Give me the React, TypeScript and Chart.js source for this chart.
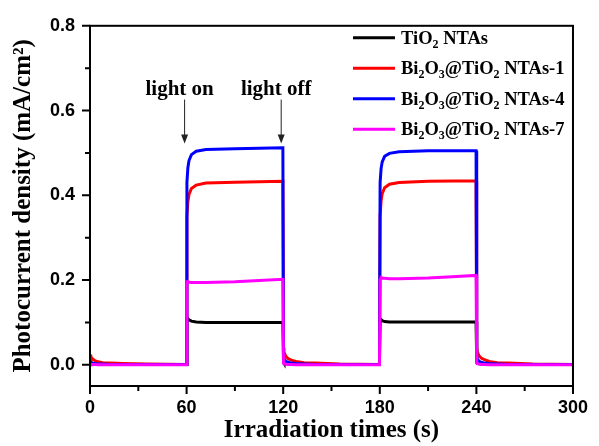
import React, { useEffect, useRef } from 'react';
import { Chart, registerables } from 'chart.js';

Chart.register(...registerables);

// Time axis (s)
const TIME = [
  0, 0.5, 1.5, 3, 5, 8, 13, 20, 35, 59.8,
  60.2, 60.8, 61.5, 63, 66, 72, 90, 105, 119.8,
  120.2, 120.5, 121.5, 123, 125, 128, 133, 140, 155, 179.8,
  180.2, 180.8, 181.5, 183, 186, 192, 210, 225, 239.8,
  240.2, 240.5, 241.5, 243, 245, 248, 253, 260, 275, 300,
];

const TIO2 = [
  0.004, 0.003, 0.002, 0.002, 0.001, 0.001, 0.001, 0.001, 0.001, 0.001,
  0.108, 0.109, 0.106, 0.103, 0.101, 0.1, 0.1, 0.1, 0.1,
  0.006, 0.004, 0.003, 0.002, 0.002, 0.001, 0.001, 0.001, 0.001, 0.001,
  0.106, 0.107, 0.104, 0.102, 0.101, 0.101, 0.101, 0.101, 0.101,
  0.006, 0.004, 0.003, 0.002, 0.002, 0.001, 0.001, 0.001, 0.001, 0.001,
];

const BI_1 = [
  0.024, 0.019, 0.014, 0.01, 0.007, 0.005, 0.004, 0.003, 0.002, 0.001,
  0.35, 0.385, 0.402, 0.416, 0.424, 0.429, 0.431, 0.432, 0.433,
  0.04, 0.03, 0.021, 0.015, 0.011, 0.008, 0.005, 0.004, 0.002, 0.001,
  0.35, 0.387, 0.404, 0.418, 0.426, 0.43, 0.433, 0.434, 0.434,
  0.042, 0.032, 0.022, 0.016, 0.012, 0.008, 0.005, 0.004, 0.002, 0.001,
];

const BI_4 = [
  0.008, 0.006, 0.004, 0.003, 0.002, 0.002, 0.001, 0.001, 0.001, 0.001,
  0.43, 0.465, 0.482, 0.496, 0.504, 0.508, 0.51, 0.511, 0.512,
  0.02, 0.014, 0.009, 0.006, 0.004, 0.003, 0.002, 0.001, 0.001, 0.001,
  0.43, 0.463, 0.479, 0.492, 0.499, 0.503, 0.505, 0.505, 0.505,
  0.02, 0.014, 0.009, 0.006, 0.004, 0.003, 0.002, 0.001, 0.001, 0.001,
];

const BI_7 = [
  0.002, 0.001, 0.001, 0.001, 0, 0, 0, 0, 0, 0,
  0.196, 0.197, 0.195, 0.194, 0.194, 0.194, 0.196, 0.199, 0.202,
  0.004, 0.003, 0.002, 0.001, 0.001, 0, 0, 0, 0, 0,
  0.2, 0.206, 0.205, 0.204, 0.203, 0.203, 0.205, 0.208, 0.211,
  0.004, 0.003, 0.002, 0.001, 0.001, 0, 0, 0, 0, 0,
];

const SERIES_LABELS = [
  'TiO_{2} NTAs',
  'Bi_{2}O_{3}@TiO_{2} NTAs-1',
  'Bi_{2}O_{3}@TiO_{2} NTAs-4',
  'Bi_{2}O_{3}@TiO_{2} NTAs-7',
];
const SERIES_COLORS = ['#000000', '#ff0000', '#0000ff', '#ff00ff'];
const SERIES_VALUES = [TIO2, BI_1, BI_4, BI_7];
const SERIES_ORDER = [3, 2, 1, 0];

const X_MAJOR = [0, 60, 120, 180, 240, 300];
const X_MINOR = [30, 90, 150, 210, 270];
const Y_MAJOR = [0, 0.2, 0.4, 0.6, 0.8];
const Y_MINOR = [0.1, 0.3, 0.5, 0.7];

const ANNOT_X = [60, 120];
const ANNOT_TEXT = ['light on', 'light off'];
const ANNOT_TEXT_Y = 0.65;
const ANNOT_ARROW_TOP = 0.626;
const ANNOT_ARROW_TIP = 0.522;

const SERIF = '"Liberation Serif", "Times New Roman", serif';
const SANS = '"Liberation Sans", Arial, sans-serif';

function parseRich(s: string) {
  const parts: { t: string; sub: boolean }[] = [];
  const re = /_\{([^}]*)\}/g;
  let last = 0;
  let m: RegExpExecArray | null;
  while ((m = re.exec(s))) {
    if (m.index > last) parts.push({ t: s.slice(last, m.index), sub: false });
    parts.push({ t: m[1], sub: true });
    last = m.index + m[0].length;
  }
  if (last < s.length) parts.push({ t: s.slice(last), sub: false });
  return parts;
}

const decorPlugin = {
  id: 'decor',
  afterDraw(chart: any) {
    const { ctx, chartArea: a, scales } = chart;
    const x = scales.x;
    const y = scales.y;
    ctx.save();
    ctx.strokeStyle = '#000';
    ctx.lineWidth = 2;
    ctx.strokeRect(a.left, a.top, a.right - a.left, a.bottom - a.top);
    ctx.beginPath();
    X_MAJOR.forEach((v) => {
      const p = x.getPixelForValue(v);
      ctx.moveTo(p, a.bottom);
      ctx.lineTo(p, a.bottom + 8);
    });
    X_MINOR.forEach((v) => {
      const p = x.getPixelForValue(v);
      ctx.moveTo(p, a.bottom);
      ctx.lineTo(p, a.bottom + 5);
    });
    Y_MAJOR.forEach((v) => {
      const p = y.getPixelForValue(v);
      ctx.moveTo(a.left - 8, p);
      ctx.lineTo(a.left, p);
    });
    Y_MINOR.forEach((v) => {
      const p = y.getPixelForValue(v);
      ctx.moveTo(a.left - 5, p);
      ctx.lineTo(a.left, p);
    });
    ctx.stroke();

    // legend
    SERIES_LABELS.forEach((lab, i) => {
      const ly = a.top + 12 + i * 30.5;
      ctx.strokeStyle = SERIES_COLORS[i];
      ctx.lineWidth = 3;
      ctx.beginPath();
      ctx.moveTo(a.right - 220, ly);
      ctx.lineTo(a.right - 178, ly);
      ctx.stroke();
      let tx = a.right - 172;
      const base = ly + 6;
      ctx.fillStyle = '#000';
      ctx.textBaseline = 'alphabetic';
      ctx.textAlign = 'left';
      parseRich(lab).forEach((part) => {
        if (part.sub) {
          ctx.font = `bold 12px ${SERIF}`;
          ctx.fillText(part.t, tx, base + 4);
        } else {
          ctx.font = `bold 18.5px ${SERIF}`;
          ctx.fillText(part.t, tx, base);
        }
        tx += ctx.measureText(part.t).width;
      });
    });

    // annotations
    ANNOT_X.forEach((v, i) => {
      const px = x.getPixelForValue(v) - 2;
      ctx.fillStyle = '#000';
      ctx.font = `bold 21px ${SERIF}`;
      ctx.textAlign = 'center';
      ctx.textBaseline = 'middle';
      ctx.fillText(ANNOT_TEXT[i], px - 5, y.getPixelForValue(ANNOT_TEXT_Y));
      const top = y.getPixelForValue(ANNOT_ARROW_TOP);
      const tip = y.getPixelForValue(ANNOT_ARROW_TIP);
      ctx.strokeStyle = '#222';
      ctx.lineWidth = 1;
      ctx.beginPath();
      ctx.moveTo(px, top);
      ctx.lineTo(px, tip - 6);
      ctx.stroke();
      ctx.fillStyle = '#222';
      ctx.beginPath();
      ctx.moveTo(px - 3.5, tip - 9);
      ctx.lineTo(px + 3.5, tip - 9);
      ctx.lineTo(px, tip);
      ctx.closePath();
      ctx.fill();
    });
    ctx.restore();
  },
};

export default function App() {
  const ref = useRef<HTMLCanvasElement | null>(null);
  useEffect(() => {
    if (!ref.current) return;
    const datasets = SERIES_VALUES.map((vals, i) => ({
      label: SERIES_LABELS[i],
      data: TIME.map((t, j) => ({ x: t, y: vals[j] })),
      borderColor: SERIES_COLORS[i],
      backgroundColor: SERIES_COLORS[i],
      borderWidth: 3,
      pointRadius: 0,
      tension: 0,
      fill: false,
      order: SERIES_ORDER[i],
    }));
    const chart = new Chart(ref.current, {
      type: 'line',
      data: { datasets },
      plugins: [decorPlugin],
      options: {
        responsive: false,
        animation: false,
        events: [],
        layout: { padding: { top: 24, right: 18, left: 0, bottom: 0 } },
        plugins: { legend: { display: false }, tooltip: { enabled: false } },
        scales: {
          x: {
            type: 'linear',
            min: 0,
            max: 300,
            afterBuildTicks: (s: any) => {
              s.ticks = X_MAJOR.map((v) => ({ value: v }));
            },
            afterFit: (s: any) => {
              s.height = 60;
            },
            grid: { display: false, drawTicks: false },
            border: { display: false },
            ticks: {
              padding: 11,
              color: '#000',
              maxRotation: 0,
              font: { family: SANS, weight: 'bold', size: 18 },
              callback: (v: any) => String(v),
            },
            title: {
              display: true,
              text: 'Irradiation times (s)',
              color: '#000',
              font: { family: SERIF, weight: 'bold', size: 25, lineHeight: 1.2 },
              padding: { top: 0, bottom: 0 },
            },
          },
          y: {
            type: 'linear',
            min: -0.05,
            max: 0.8,
            afterBuildTicks: (s: any) => {
              s.ticks = Y_MAJOR.map((v) => ({ value: v }));
            },
            afterFit: (s: any) => {
              s.width = 90;
            },
            grid: { display: false, drawTicks: false },
            border: { display: false },
            ticks: {
              padding: 15,
              color: '#000',
              font: { family: SANS, weight: 'bold', size: 18 },
              callback: (v: any) => Number(v).toFixed(1),
            },
            title: {
              display: true,
              text: 'Photocurrent density (mA/cm²)',
              color: '#000',
              font: { family: SERIF, weight: 'bold', size: 25, lineHeight: 1.2 },
              padding: { top: 9, bottom: 0 },
            },
          },
        },
      } as any,
    });
    return () => chart.destroy();
  }, []);
  return (
    <div style={{ position: 'fixed', left: 0, top: 0, width: 599, height: 446, background: '#fff' }}>
      <canvas ref={ref} width={599} height={446} style={{ display: 'block' }} />
    </div>
  );
}
